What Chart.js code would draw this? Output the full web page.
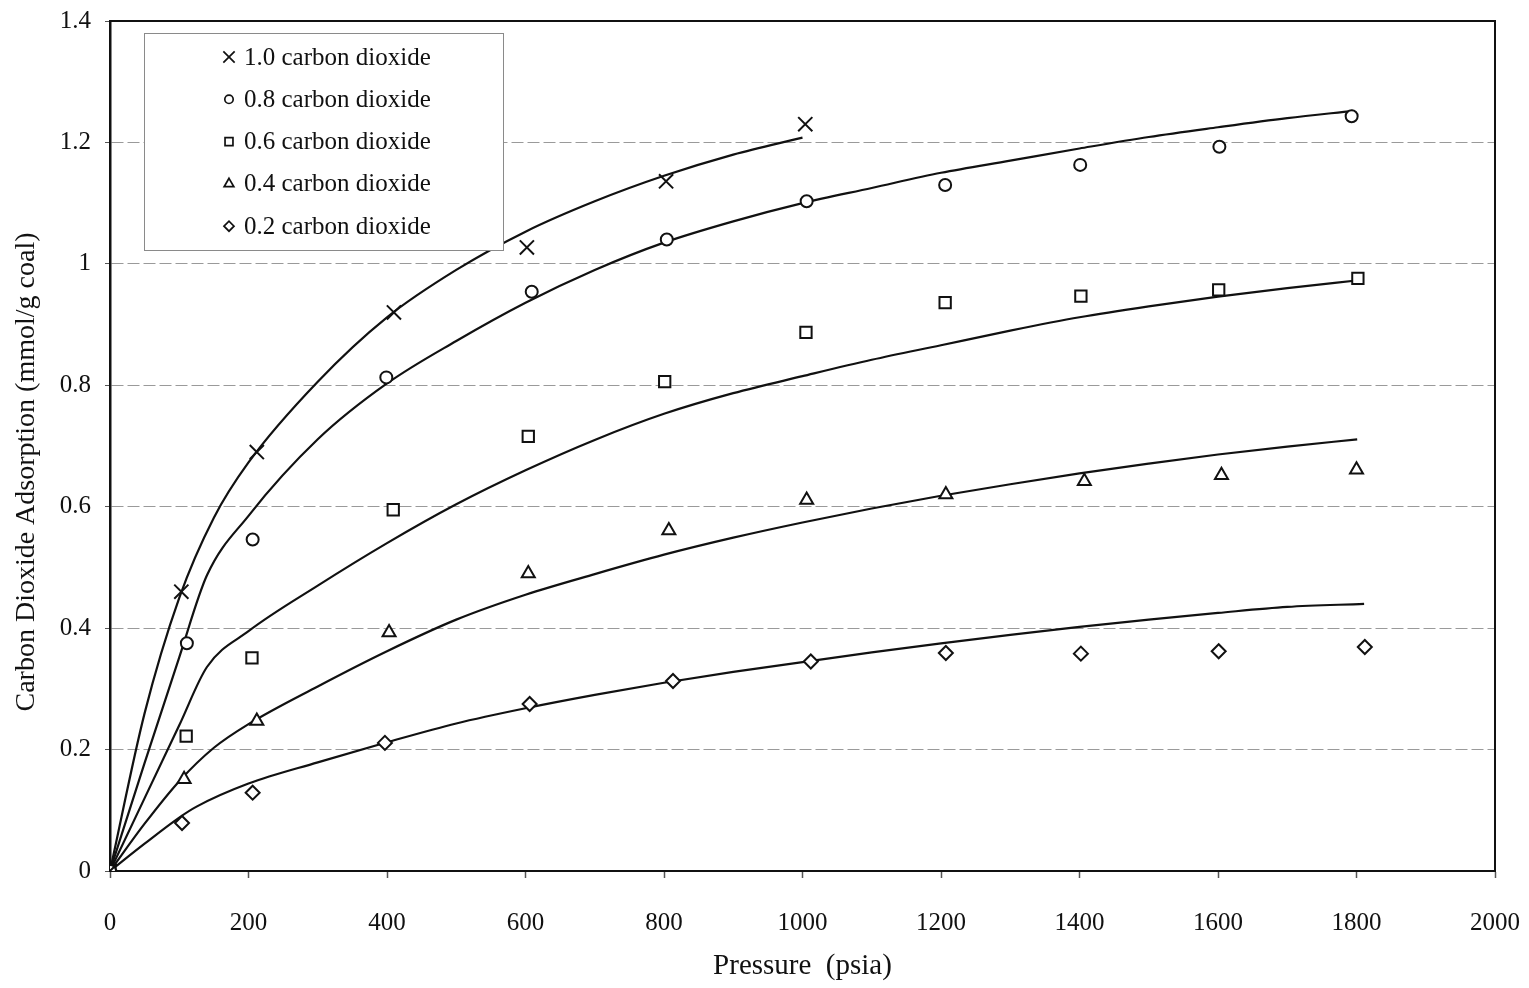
<!DOCTYPE html>
<html>
<head>
<meta charset="utf-8">
<title>Carbon dioxide adsorption isotherms</title>
<script src="https://cdn.jsdelivr.net/npm/chart.js@4.4.1/dist/chart.umd.min.js"></script>
<style>
  html, body { margin: 0; padding: 0; background: #ffffff; }
  #wrap { width: 1529px; height: 988px; }
  canvas { display: block; }
</style>
</head>
<body>
<div id="wrap"><canvas id="chart" width="1529" height="988"></canvas></div>
<script>
// ---- Measured adsorption (pressure in psia, adsorption in mmol/g coal) ----
const seriesLabels = ['1.0 carbon dioxide', '0.8 carbon dioxide', '0.6 carbon dioxide', '0.4 carbon dioxide', '0.2 carbon dioxide'];

const p10 = [0, 103, 212, 410, 602, 803, 1004];
const q10 = [0, 0.460, 0.690, 0.920, 1.027, 1.136, 1.230];

const p08 = [0, 111, 206, 399, 609, 804, 1006, 1206, 1401, 1602, 1793];
const q08 = [0, 0.375, 0.546, 0.813, 0.954, 1.040, 1.103, 1.130, 1.163, 1.193, 1.243];

const p06 = [0, 110, 205, 409, 604, 801, 1005, 1206, 1402, 1601, 1802];
const q06 = [0, 0.222, 0.351, 0.595, 0.716, 0.806, 0.887, 0.936, 0.947, 0.957, 0.976];

const p04 = [0, 107, 212, 403, 604, 807, 1006, 1207, 1407, 1605, 1800];
const q04 = [0, 0.151, 0.247, 0.393, 0.490, 0.561, 0.611, 0.620, 0.642, 0.652, 0.661];

const p02 = [0, 104, 206, 397, 606, 813, 1012, 1207, 1402, 1601, 1812];
const q02 = [0, 0.079, 0.129, 0.211, 0.275, 0.313, 0.345, 0.359, 0.358, 0.362, 0.369];

// ---- Fitted isotherm curves ----
const fp10 = [0, 50, 100, 150, 200, 300, 400, 500, 600, 700, 800, 900, 1000];
const fq10 = [0, 0.260, 0.450, 0.582, 0.673, 0.806, 0.912, 0.990, 1.053, 1.103, 1.145, 1.180, 1.208];

const fp08 = [0, 50, 100, 140, 200, 300, 400, 500, 600, 700, 800, 900, 1000, 1100, 1200, 1300, 1400, 1500, 1600, 1700, 1795];
const fq08 = [0, 0.178, 0.352, 0.487, 0.585, 0.711, 0.803, 0.873, 0.936, 0.990, 1.035, 1.070, 1.100, 1.125, 1.150, 1.170, 1.190, 1.209, 1.225, 1.240, 1.252];

const fp06 = [0, 50, 100, 140, 200, 300, 400, 500, 600, 700, 800, 900, 1000, 1100, 1200, 1300, 1400, 1500, 1600, 1700, 1803];
const fq06 = [0, 0.120, 0.240, 0.336, 0.395, 0.470, 0.540, 0.604, 0.660, 0.710, 0.753, 0.787, 0.815, 0.842, 0.866, 0.890, 0.912, 0.930, 0.946, 0.960, 0.973];

const fp04 = [0, 50, 100, 150, 200, 300, 400, 500, 600, 700, 800, 900, 1000, 1100, 1200, 1300, 1400, 1500, 1600, 1700, 1801];
const fq04 = [0, 0.078, 0.148, 0.203, 0.242, 0.304, 0.362, 0.414, 0.455, 0.489, 0.521, 0.549, 0.574, 0.597, 0.618, 0.637, 0.655, 0.671, 0.686, 0.699, 0.711];

const fp02 = [0, 50, 100, 125, 200, 300, 400, 500, 600, 700, 800, 900, 1000, 1100, 1200, 1300, 1400, 1500, 1600, 1700, 1811];
const fq02 = [0, 0.045, 0.088, 0.106, 0.144, 0.179, 0.212, 0.243, 0.268, 0.290, 0.310, 0.328, 0.344, 0.360, 0.375, 0.389, 0.402, 0.414, 0.425, 0.435, 0.440];

// ---- Axis tick labels and titles ----
const xTickLabels = ['0', '200', '400', '600', '800', '1000', '1200', '1400', '1600', '1800', '2000'];
const yTickLabels = ['0', '0.2', '0.4', '0.6', '0.8', '1', '1.2', '1.4'];

const xTitle = 'Pressure  (psia)';
const yTitle = 'Carbon Dioxide Adsorption (mmol/g coal)';

const SERIF = "'Liberation Serif', 'Times New Roman', serif";
const INK = '#111111';

const toXY = (xs, ys) => xs.map((x, i) => ({ x: x, y: ys[i] }));

// marker styling per series: [pointStyle, radius in plot, radius in legend]
const markerStyles = [
  ['crossRot', 10, 8],
  ['circle', 6, 4.2],
  ['rect', 8, 5.6],
  ['triangle', 7.5, 5.6],
  ['rectRot', 7, 5]
];

const measured = [[p10, q10], [p08, q08], [p06, q06], [p04, q04], [p02, q02]];
const fitted = [[fp10, fq10], [fp08, fq08], [fp06, fq06], [fp04, fq04], [fp02, fq02]];

const datasets = [];
fitted.forEach((f, i) => {
  datasets.push({
    type: 'line',
    label: seriesLabels[i] + ' fit',
    data: toXY(f[0], f[1]),
    borderColor: INK,
    borderWidth: 2.2,
    pointRadius: 0,
    fill: false,
    cubicInterpolationMode: 'monotone',
    showInLegendBox: false,
    order: 2
  });
});
measured.forEach((m, i) => {
  datasets.push({
    type: 'scatter',
    label: seriesLabels[i],
    data: toXY(m[0], m[1]),
    showLine: false,
    pointStyle: markerStyles[i][0],
    pointRadius: markerStyles[i][1],
    legendRadius: markerStyles[i][2],
    pointBorderColor: INK,
    pointBackgroundColor: '#ffffff',
    pointBorderWidth: 2,
    showInLegendBox: true,
    order: 1
  });
});

// Black frame around the plotting area (top and right edges included)
const frame = {
  id: 'frame',
  beforeDatasetsDraw(chart) {
    const a = chart.chartArea, ctx = chart.ctx;
    ctx.save();
    ctx.strokeStyle = INK;
    ctx.lineWidth = 2;
    ctx.strokeRect(a.left, a.top, a.right - a.left, a.bottom - a.top);
    ctx.restore();
  }
};

// Vertical axis title, set a little below the middle of the axis
const yAxisTitle = {
  id: 'yAxisTitle',
  afterDraw(chart) {
    const ctx = chart.ctx, a = chart.chartArea;
    ctx.save();
    ctx.translate(27, (a.top + a.bottom) / 2 + 26);
    ctx.rotate(-Math.PI / 2);
    ctx.fillStyle = INK;
    ctx.font = '28px ' + SERIF;
    ctx.textAlign = 'center';
    ctx.textBaseline = 'middle';
    ctx.fillText(yTitle, 0, 0);
    ctx.restore();
  }
};

// Boxed legend inside the plot, upper left
const legendBox = {
  id: 'legendBox',
  afterDatasetsDraw(chart) {
    const ctx = chart.ctx, a = chart.chartArea;
    const left = a.left + 34, top = a.top + 12, w = 359, h = 217;
    ctx.save();
    ctx.fillStyle = '#ffffff';
    ctx.fillRect(left, top, w, h);
    ctx.strokeStyle = '#8a8a8a';
    ctx.lineWidth = 1;
    ctx.strokeRect(left + 0.5, top + 0.5, w, h);
    const items = chart.data.datasets.filter(d => d.showInLegendBox);
    const rowStart = top + 24, rowStep = 42.3;
    items.forEach((d, i) => {
      const cy = rowStart + i * rowStep;
      ctx.strokeStyle = INK;
      ctx.fillStyle = '#ffffff';
      ctx.lineWidth = 1.7;
      Chart.helpers.drawPoint(ctx, { pointStyle: d.pointStyle, radius: d.legendRadius, rotation: 0, borderWidth: 1.7 }, left + 85, cy);
      ctx.fillStyle = INK;
      ctx.font = '25px ' + SERIF;
      ctx.textAlign = 'left';
      ctx.textBaseline = 'middle';
      ctx.fillText(d.label, left + 100, cy + 1);
    });
    ctx.restore();
  }
};

new Chart(document.getElementById('chart'), {
  data: { datasets: datasets },
  options: {
    responsive: false,
    animation: false,
    devicePixelRatio: 1,
    layout: { padding: { left: 0, top: 21, right: 34, bottom: 0 } },
    plugins: {
      legend: { display: false },
      tooltip: { enabled: false }
    },
    scales: {
      x: {
        type: 'linear',
        min: 0,
        max: 2000,
        afterFit(scale) {
          scale.height = 117;
          scale.paddingLeft = 0;
          scale.paddingRight = 0;
        },
        ticks: {
          stepSize: 200,
          maxRotation: 0,
          autoSkip: false,
          padding: 30,
          color: INK,
          font: { family: SERIF, size: 25 },
          callback: (v, i) => xTickLabels[i]
        },
        grid: { drawOnChartArea: false, drawTicks: true, tickLength: 7, tickColor: '#555555', tickWidth: 1.5 },
        border: { display: true, color: INK, width: 2 },
        title: {
          display: true,
          text: xTitle,
          color: INK,
          font: { family: SERIF, size: 29 },
          padding: { top: 0, bottom: 4 }
        }
      },
      y: {
        type: 'linear',
        min: 0,
        max: 1.4,
        afterFit(scale) {
          scale.width = 110;
          scale.paddingTop = 0;
          scale.paddingBottom = 0;
        },
        ticks: {
          stepSize: 0.2,
          autoSkip: false,
          padding: 14,
          color: INK,
          font: { family: SERIF, size: 25 },
          callback: (v, i) => yTickLabels[i]
        },
        grid: {
          drawOnChartArea: true,
          drawTicks: true,
          tickLength: 5,
          tickColor: '#555555',
          lineWidth: 1,
          color: ctx => (ctx.index === 0 || ctx.index === yTickLabels.length - 1) ? 'rgba(0,0,0,0)' : '#9a9a9a'
        },
        border: { display: true, color: INK, width: 2.5, dash: [12, 4] },
        title: { display: false }
      }
    }
  },
  plugins: [frame, legendBox, yAxisTitle]
});
</script>
</body>
</html>
